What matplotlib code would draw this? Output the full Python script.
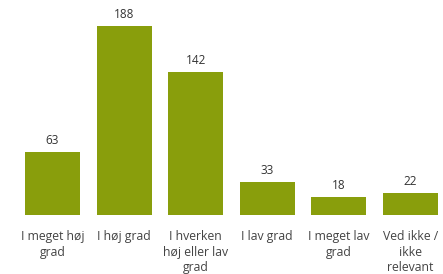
import matplotlib
matplotlib.use("Agg")
import matplotlib.pyplot as plt

# Data
categories = ["I meget høj\ngrad", "I høj grad", "I hverken\nhøj eller lav\ngrad",
              "I lav grad", "I meget lav\ngrad", "Ved ikke /\nikke\nrelevant"]
values = [63, 188, 142, 33, 18, 22]
bar_color = "#899e0c"

plt.rcParams['font.family'] = ['Open Sans', 'DejaVu Sans']

fig = plt.figure(figsize=(4.43, 2.74), dpi=100)
ax = fig.add_axes([16.7 / 443, 59 / 274, 426 / 443, 215 / 274])

x = list(range(len(values)))
bars = ax.bar(x, values, width=0.77, color=bar_color)

for b, v in zip(bars, values):
    ax.text(b.get_x() + b.get_width() / 2, v + 5, str(v),
            ha='center', va='bottom', fontsize=8.5, color='#333333')

ax.set_xlim(-0.5, 5.45)
ax.set_ylim(0, 214)
ax.set_xticks(x)
ax.set_xticklabels(categories, fontsize=8.8, color='#444444', linespacing=1.25)
ax.tick_params(axis='x', length=0, pad=11)
ax.set_yticks([])
for s in ax.spines.values():
    s.set_visible(False)

fig.savefig("out.png", dpi=100)
